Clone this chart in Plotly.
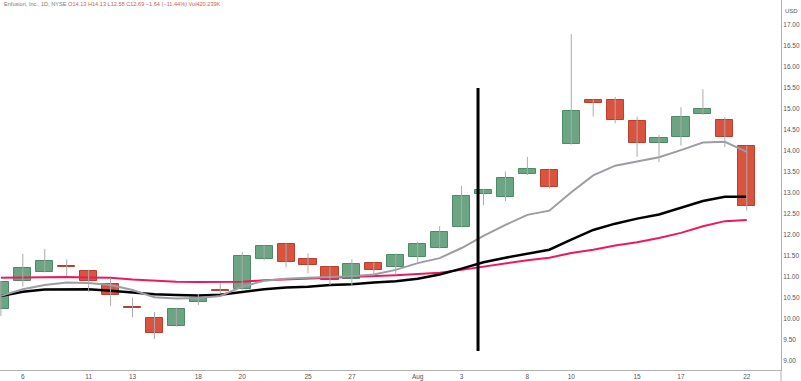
import plotly.graph_objects as go

# ---- data ----
dates = ["Jul 5", "Jul 6", "Jul 7", "Jul 8", "Jul 11", "Jul 12", "Jul 13", "Jul 14", "Jul 15",
         "Jul 18", "Jul 19", "Jul 20", "Jul 21", "Jul 22", "Jul 25", "Jul 26", "Jul 27", "Jul 28",
         "Jul 29", "Aug 1", "Aug 2", "Aug 3", "Aug 4", "Aug 5", "Aug 8", "Aug 9", "Aug 10",
         "Aug 11", "Aug 12", "Aug 15", "Aug 16", "Aug 17", "Aug 18", "Aug 19", "Aug 22"]
opens = [10.24, 10.90, 11.13, 11.27, 11.14, 10.83, 10.29, 10.02, 9.84, 10.40, 10.68, 10.71,
         11.42, 11.78, 11.42, 11.23, 10.96, 11.33, 11.25, 11.48, 11.70, 12.20, 12.97, 12.91,
         13.45, 13.55, 14.17, 15.21, 15.21, 14.71, 14.18, 14.33, 14.88, 14.75, 14.13]
highs = [10.91, 11.55, 11.67, 11.42, 11.17, 10.97, 10.51, 10.17, 10.27, 10.59, 10.85, 11.60,
         11.77, 11.80, 11.56, 11.25, 11.42, 11.35, 11.56, 11.84, 12.21, 13.17, 13.09, 13.51,
         13.86, 13.57, 16.78, 15.23, 15.29, 14.82, 14.38, 15.04, 15.47, 14.80, 14.13]
lows = [10.07, 10.77, 11.11, 11.02, 10.65, 10.31, 10.04, 9.52, 9.82, 10.33, 10.61, 10.69,
        11.40, 11.23, 11.09, 10.81, 10.79, 11.05, 11.05, 11.36, 11.68, 12.18, 12.71, 12.81,
        13.43, 13.11, 14.15, 14.82, 14.66, 13.86, 13.73, 14.13, 14.86, 14.09, 12.58]
closes = [10.89, 11.21, 11.38, 11.25, 10.90, 10.56, 10.27, 9.66, 10.25, 10.50, 10.66, 11.50,
          11.75, 11.35, 11.28, 10.92, 11.31, 11.17, 11.52, 11.79, 12.08, 12.94, 13.07, 13.36,
          13.57, 13.15, 14.95, 15.14, 14.75, 14.20, 14.30, 14.80, 14.99, 14.34, 12.69]
ma_fast = [10.55, 10.71, 10.81, 10.87, 10.86, 10.81, 10.69, 10.52, 10.49, 10.50, 10.55, 10.77,
           10.91, 10.96, 10.98, 11.00, 11.02, 11.06, 11.17, 11.33, 11.45, 11.69, 11.98, 12.24,
           12.48, 12.58, 13.02, 13.42, 13.65, 13.75, 13.85, 14.02, 14.20, 14.22, 13.98]
ma_mid = [10.55, 10.65, 10.70, 10.71, 10.71, 10.67, 10.63, 10.59, 10.57, 10.56, 10.58, 10.65,
          10.71, 10.75, 10.77, 10.81, 10.83, 10.87, 10.90, 10.96, 11.06, 11.20, 11.35, 11.46,
          11.56, 11.65, 11.89, 12.12, 12.27, 12.39, 12.49, 12.65, 12.81, 12.91, 12.91]
ma_slow = [10.98, 10.99, 11.00, 11.00, 10.99, 10.98, 10.94, 10.91, 10.89, 10.88, 10.88, 10.89,
           10.92, 10.94, 10.96, 10.97, 10.99, 11.01, 11.04, 11.07, 11.10, 11.17, 11.25, 11.33,
           11.40, 11.46, 11.57, 11.65, 11.75, 11.83, 11.93, 12.05, 12.21, 12.33, 12.36]
tick_idx = [1, 4, 6, 9, 11, 14, 16, 19, 21, 24, 26, 29, 31, 34]
tick_text = ["6", "11", "13", "18", "20", "25", "27", "Aug", "3", "8", "10", "15", "17", "22"]
y_ticks = [9.0, 9.5, 10.0, 10.5, 11.0, 11.5, 12.0, 12.5, 13.0, 13.5, 14.0, 14.5, 15.0, 15.5,
           16.0, 16.5, 17.0]
marker_x = 21.75
marker_y = [9.24, 15.5]
title_name = "Enfusion, Inc., 1D, NYSE"
title_vals = "O14.13 H14.13 L12.58 C12.69 −1.64 (−11.44%) Vol420.239K"

# ---- styles ----
UP_FILL, UP_LINE = "#6ba583", "#4d8a68"
DN_FILL, DN_LINE = "#d9533f", "#b8402f"
WICK = "#ababab"
FONT = "Liberation Sans"

x = list(range(len(dates)))

fig = go.Figure()

fig.add_trace(go.Scatter(x=x, y=ma_slow, mode="lines",
                         line=dict(color="#f0185c", width=2), hoverinfo="skip"))
fig.add_trace(go.Scatter(x=x, y=ma_mid, mode="lines",
                         line=dict(color="#000000", width=2.5), hoverinfo="skip"))
fig.add_trace(go.Scatter(x=x, y=ma_fast, mode="lines",
                         line=dict(color="#9c9ca3", width=2), hoverinfo="skip"))

# wicks
wx, wy = [], []
for i in x:
    wx += [i, i, None]
    wy += [lows[i], highs[i], None]
fig.add_trace(go.Scatter(x=wx, y=wy, mode="lines",
                         line=dict(color=WICK, width=1), hoverinfo="skip"))

# bodies
base = [min(o, c) for o, c in zip(opens, closes)]
height = [max(abs(c - o), 0.015) for o, c in zip(opens, closes)]
up = [c >= o for o, c in zip(opens, closes)]
fig.add_trace(go.Bar(x=x, y=height, base=base, width=0.78,
                     marker=dict(color=[UP_FILL if u else DN_FILL for u in up],
                                 line=dict(color=[UP_LINE if u else DN_LINE for u in up],
                                           width=1)),
                     hoverinfo="skip"))

fig.add_shape(type="line", x0=marker_x, x1=marker_x, y0=marker_y[0], y1=marker_y[1],
              xref="x", yref="y", line=dict(color="#000000", width=3), layer="above")
# right axis line continues below plot
fig.add_shape(type="line", x0=1, x1=1, y0=0, y1=-0.04, xref="paper", yref="paper",
              line=dict(color="#b0b0b0", width=1))

fig.add_annotation(xref="paper", yref="paper", x=0.003, y=1 - 4.5 / 370,
                   xanchor="left", yanchor="middle", showarrow=False,
                   text=f"{title_name} <span style='color:#c0665a'>{title_vals}</span>",
                   font=dict(family=FONT, size=5.6, color="#7a7a7a"))
fig.add_annotation(xref="paper", yref="paper", x=1 + 2 / 781, y=1 - 11 / 370,
                   xanchor="left", yanchor="middle", showarrow=False, text="USD",
                   font=dict(family=FONT, size=6, color="#555555"))

fig.update_layout(
    width=801, height=381,
    margin=dict(l=0, r=20, t=0, b=11, pad=0),
    paper_bgcolor="white", plot_bgcolor="white",
    showlegend=False, bargap=0,
    font=dict(family=FONT, size=7, color="#555555"),
    xaxis=dict(range=[-0.04, 35.56], showgrid=False, zeroline=False, showline=True,
               linecolor="#b0b0b0", linewidth=1, tickmode="array", tickvals=tick_idx,
               ticktext=tick_text, ticks="", automargin=False,
               tickfont=dict(family=FONT, size=6.5, color="#555555")),
    yaxis=dict(range=[8.786, 17.595], side="right", showgrid=False, zeroline=False,
               showline=True, linecolor="#b0b0b0", linewidth=1, tickmode="array",
               tickvals=y_ticks, ticktext=[f"{v:.2f}" for v in y_ticks], ticks="",
               automargin=False, tickfont=dict(family=FONT, size=6.5, color="#555555")),
)

fig.write_html("out.html", config={"displayModeBar": False},
               post_script="document.body.style.margin='0px';document.body.style.overflow='hidden';")
